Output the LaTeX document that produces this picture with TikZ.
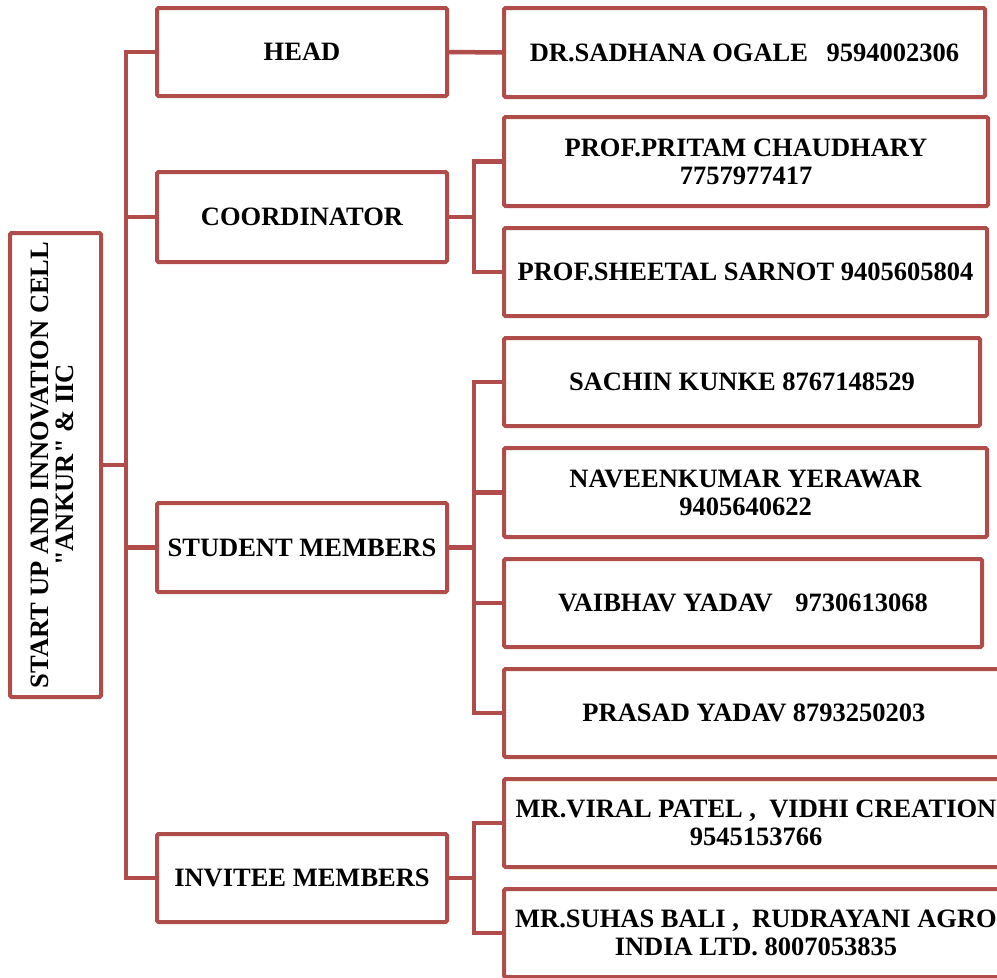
\documentclass[tikz,border=0pt]{standalone}
\usepackage{fontspec}
\setmainfont{Liberation Serif}[Ligatures=TeXOff]
\usepackage{graphicx}
\definecolor{accent}{RGB}{176,76,74}
\begin{document}
\begin{tikzpicture}[x=1pt,y=-1pt,
  box/.style={draw=accent, line width=4pt, rounded corners=1.5pt, inner sep=0pt, align=center,
    font=\fontsize{26.5}{28}\selectfont\bfseries, text=black},
  conn/.style={draw=accent, line width=4.5pt, line join=miter}]
\useasboundingbox (0,0) rectangle (997,978);
\clip (0,0) rectangle (997,978);
% root
\node[box, minimum width=91pt, minimum height=464pt] (root) at (55.5,465)
  {\rotatebox{90}{\begin{tabular}{@{}c@{}}START UP AND INNOVATION CELL\\[-3pt]"ANKUR" \& IIC\end{tabular}}};
% level 1
\node[box, minimum width=290pt, minimum height=88pt] (head) at (302,52) {HEAD};
\node[box, minimum width=290pt, minimum height=90pt] (coord) at (302,217) {COORDINATOR};
\node[box, minimum width=290pt, minimum height=89pt] (stud) at (302,547.5) {STUDENT MEMBERS};
\node[box, minimum width=290pt, minimum height=88pt] (inv) at (302,878) {INVITEE MEMBERS};
% level 2
\node[box, minimum width=481pt, minimum height=89pt] (dr) at (744.5,52.5) {DR.SADHANA OGALE\hspace{0.7em}9594002306};
\node[box, minimum width=484pt, minimum height=89pt] (pritam) at (746,161.5) {PROF.PRITAM CHAUDHARY\\7757977417};
\node[box, minimum width=483pt, minimum height=88pt] (sheetal) at (745.5,272) {PROF.SHEETAL SARNOT 9405605804};
\node[box, minimum width=476pt, minimum height=88pt] (sachin) at (742,382) {SACHIN KUNKE 8767148529};
\node[box, minimum width=483pt, minimum height=89pt] (naveen) at (745.5,492.5) {NAVEENKUMAR YERAWAR\\9405640622};
\node[box, minimum width=478pt, minimum height=88pt] (vaibhav) at (743,603) {VAIBHAV YADAV\hspace{0.85em}9730613068};
\node[box, minimum width=500pt, minimum height=88pt] (prasad) at (754,713) {PRASAD YADAV 8793250203};
\node[box, minimum width=504pt, minimum height=88pt] (viral) at (756,823) {MR.VIRAL PATEL ,\ \ VIDHI CREATION\\9545153766};
\node[box, minimum width=504pt, minimum height=88pt] (suhas) at (756,933) {MR.SUHAS BALI ,\ \ RUDRAYANI AGRO\\INDIA LTD. 8007053835};
% trunk
\draw[conn] (head.west) -- ++(-29,0) coordinate (t1) |- (inv.west);
\draw[conn] (root.east) -- (root.east -| t1);
\draw[conn] (coord.west -| t1) -- (coord.west);
\draw[conn] (stud.west -| t1) -- (stud.west);
% head
\draw[conn] (head.east) -- (dr.west);
% coordinator
\draw[conn] (pritam.west) -- ++(-28,0) coordinate (t2) |- (sheetal.west);
\draw[conn] (coord.east) -- (coord.east -| t2);
% students
\draw[conn] (sachin.west) -- ++(-28,0) coordinate (t3) |- (prasad.west);
\draw[conn] (naveen.west -| t3) -- (naveen.west);
\draw[conn] (vaibhav.west -| t3) -- (vaibhav.west);
\draw[conn] (stud.east) -- (stud.east -| t3);
% invitees
\draw[conn] (viral.west) -- ++(-28,0) coordinate (t4) |- (suhas.west);
\draw[conn] (inv.east) -- (inv.east -| t4);
\end{tikzpicture}
\end{document}
